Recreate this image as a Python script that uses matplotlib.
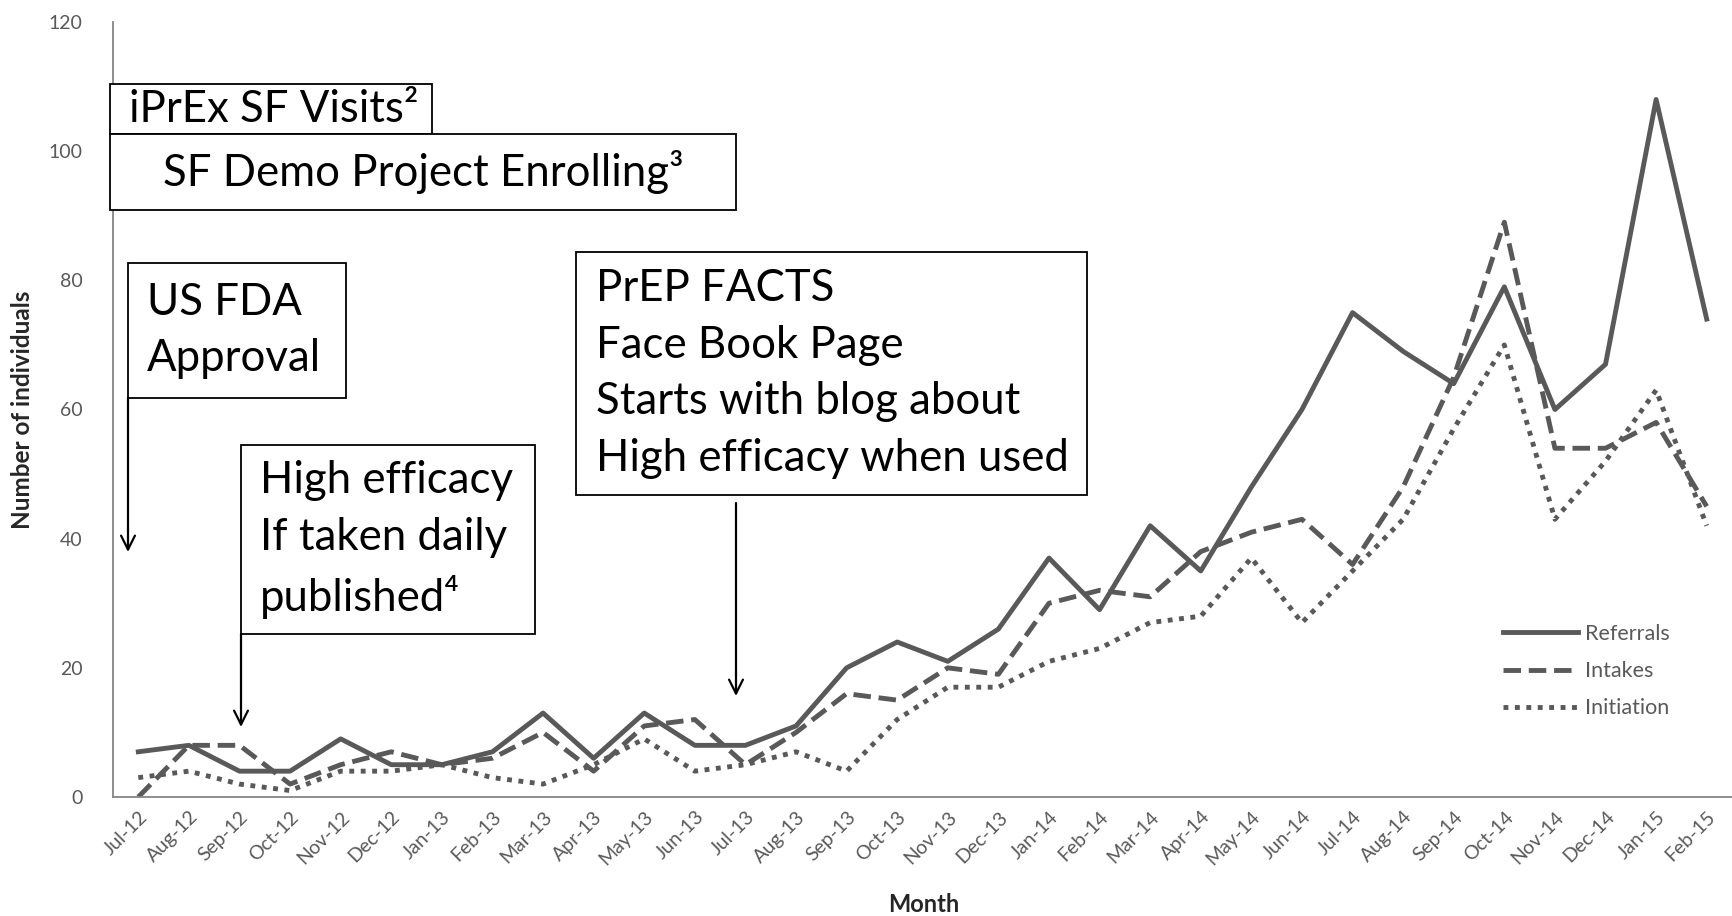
import numpy as np
import matplotlib
matplotlib.use("Agg")
import matplotlib.pyplot as plt
from matplotlib.patches import Rectangle, FancyArrowPatch

plt.rcParams['font.family'] = ['Lato', 'DejaVu Sans']

W, H = 1732, 916

months = ['Jul-12', 'Aug-12', 'Sep-12', 'Oct-12', 'Nov-12', 'Dec-12',
          'Jan-13', 'Feb-13', 'Mar-13', 'Apr-13', 'May-13', 'Jun-13',
          'Jul-13', 'Aug-13', 'Sep-13', 'Oct-13', 'Nov-13', 'Dec-13',
          'Jan-14', 'Feb-14', 'Mar-14', 'Apr-14', 'May-14', 'Jun-14',
          'Jul-14', 'Aug-14', 'Sep-14', 'Oct-14', 'Nov-14', 'Dec-14',
          'Jan-15', 'Feb-15']
referrals = [7, 8, 4, 4, 9, 5, 5, 7, 13, 6, 13, 8,
             8, 11, 20, 24, 21, 26, 37, 29, 42, 35, 48, 60,
             75, 69, 64, 79, 60, 67, 108, 74]
intakes = [0, 8, 8, 2, 5, 7, 5, 6, 10, 4, 11, 12,
           5, 10, 16, 15, 20, 19, 30, 32, 31, 38, 41, 43,
           36, 48, 65, 89, 54, 54, 58, 45]
initiation = [3, 4, 2, 1, 4, 4, 5, 3, 2, 5, 9, 4,
              5, 7, 4, 12, 17, 17, 21, 23, 27, 28, 37, 27,
              35, 43, 57, 70, 43, 52, 63, 42]

y_ticks = [0, 20, 40, 60, 80, 100, 120]

line_col = '#595959'
axis_col = '#868686'


def fx(x):
    return x / W


def fy(y):
    return 1 - y / H


fig = plt.figure(figsize=(W / 100, H / 100), dpi=100)
ax = fig.add_axes([fx(113), fy(797), 1 - fx(113), fy(22) - fy(797)])

x = np.arange(len(months))
ax.plot(x, referrals, color=line_col, lw=3.5, label='Referrals')
ax.plot(x, intakes, color=line_col, lw=3.5, dashes=(3.6, 1.6), label='Intakes')
ax.plot(x, initiation, color=line_col, lw=3.5, dashes=(1.0, 1.35), label='Initiation')

ax.set_xlim(-0.5, len(months) - 0.5)
ax.set_ylim(0, 120)
ax.set_yticks(y_ticks)
ax.set_xticks(x)
ax.set_xticklabels(months, rotation=45, ha='right', rotation_mode='anchor')
ax.tick_params(length=0, labelsize=14, labelcolor=line_col)
ax.tick_params(axis='y', pad=22)
ax.tick_params(axis='x', pad=8)
for s in ['top', 'right']:
    ax.spines[s].set_visible(False)
for s in ['left', 'bottom']:
    ax.spines[s].set_color(axis_col)
    ax.spines[s].set_linewidth(1.3)

fig.text(fx(23), fy(410), 'Number of individuals', rotation=90, ha='center', va='center',
         fontsize=17.5, fontweight='bold', color='#262626')
fig.text(fx(924), fy(904), 'Month', ha='center', va='center',
         fontsize=17, fontweight='bold', color='#262626')

ax.legend(loc='upper left', bbox_to_anchor=(fx(1503), fy(624)), bbox_transform=fig.transFigure,
          frameon=False, fontsize=15.5, handlelength=3.5, handletextpad=0.3,
          labelspacing=0.8, borderpad=0, borderaxespad=0, labelcolor=line_col)

# annotation boxes (figure pixel coordinates, from top-left)
boxes = [
    (110, 84, 432, 134, 'iPrEx SF Visits\u00b2', 'left', 129),
    (110, 134, 736, 210, 'SF Demo Project Enrolling\u00b3', 'center', None),
    (128, 263, 346, 398, 'US FDA\nApproval', 'left', 147),
    (241, 445, 535, 634, 'High efficacy\nIf taken daily\npublished\u2074', 'left', 260),
    (576, 252, 1087, 495, 'PrEP FACTS\nFace Book Page\nStarts with blog about\nHigh efficacy when used', 'left', 596),
]
for x0, y0, x1, y1, txt, ha, tx in boxes:
    fig.patches.append(Rectangle((fx(x0), fy(y1)), fx(x1) - fx(x0), fy(y0) - fy(y1),
                                 transform=fig.transFigure, facecolor='white',
                                 edgecolor='black', lw=1.3, zorder=5))
    if tx is None:
        tx = (x0 + x1) / 2
    fig.text(fx(tx), fy((y0 + y1) / 2), txt, ha=ha, va='center', fontsize=31.5,
             linespacing=1.48, color='black', zorder=6)

arrows = [(128, 398, 552), (241, 634, 727), (736, 503, 696)]
for ax_x, y_start, y_end in arrows:
    fig.add_artist(FancyArrowPatch(
        (fx(ax_x), fy(y_start)), (fx(ax_x), fy(y_end)), transform=fig.transFigure,
        arrowstyle='->,head_length=10,head_width=5', color='black', lw=1.6,
        mutation_scale=1, shrinkA=0, shrinkB=0))

fig.savefig('out.png', dpi=100)
